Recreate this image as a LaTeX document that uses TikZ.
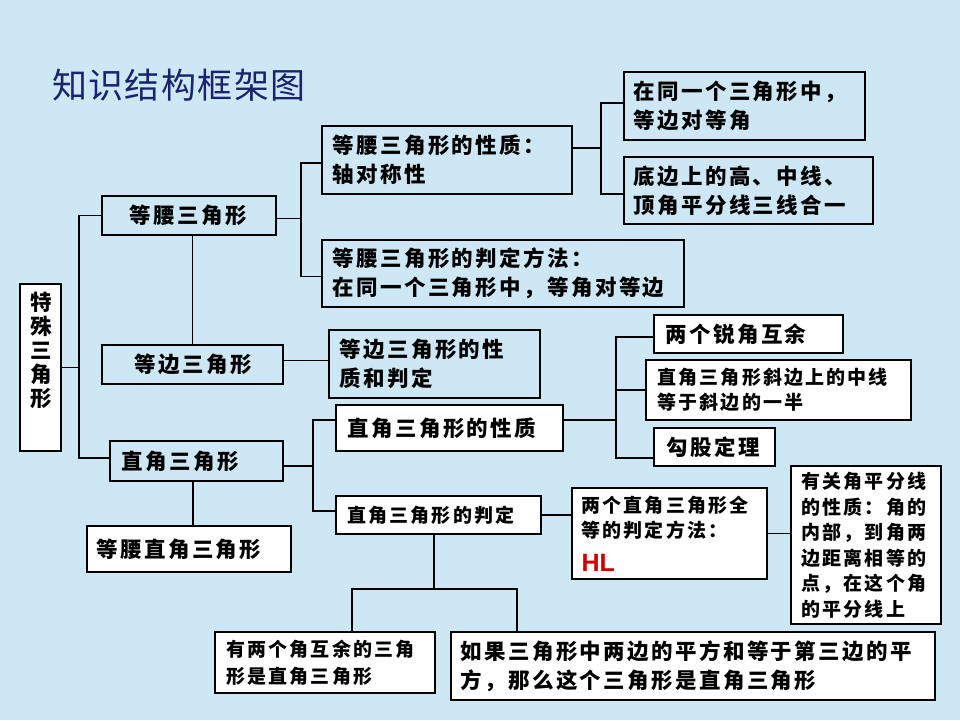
\documentclass[tikz,border=0pt]{standalone}
\usepackage{fontspec}
\newfontfamily\cjkA{Noto Sans CJK SC}[LetterSpace=11]
\newfontfamily\cjkC{Noto Sans CJK SC}[LetterSpace=11]
\newfontfamily\cjkT{Noto Sans CJK SC}[LetterSpace=4]
\newfontfamily\hlf{Liberation Sans}
\definecolor{bgc}{RGB}{205,231,245}
\definecolor{navy}{RGB}{25,35,110}
\definecolor{hlred}{RGB}{204,0,0}
\newcommand\fA{\cjkA\bfseries\fontsize{21.5}{29}\selectfont}
\newcommand\fC{\cjkC\bfseries\fontsize{19}{25.5}\selectfont}
\newcommand\fT{\cjkT\fontsize{35}{38}\selectfont}
\newcommand\hlfont{\hlf\bfseries\fontsize{25}{25}\selectfont\color{hlred}}
\newcommand\bxt[9]{%
  \node[#1, minimum width={#5-#3}, minimum height={#6-#4}] (#2) at ({(#3+#5)/2},{(#4+#6)/2}) {};
  \node[#7, anchor=west, align=left] (#2t) at ([xshift=#8pt]#2.west) {#9};}
\tikzset{
  bb/.style={draw=black, line width=1.1pt, inner sep=0pt},
  wb/.style={bb, fill=white},
  tA/.style={inner sep=0pt, font=\fA, text=black},
  tC/.style={inner sep=0pt, font=\fC, text=black},
  ln/.style={draw=black, line width=1.1pt},
}
\begin{document}
\begin{tikzpicture}[x=1pt,y=-1pt]
\fill[bgc] (0,0) rectangle (960,720);
\useasboundingbox (0,0) rectangle (960,720);

\node[anchor=west, inner sep=0pt, font=\fT, text=navy] (title) at (52,85) {知识结构框架图};

% root
\node[wb, minimum width=41pt, minimum height=167pt] (ts) at (40.5,367.5) {};
\node[tA, align=center] (tst) at (41.5,350.5) {特\\[-5pt]殊\\[-5pt]三\\[-5pt]角\\[-5pt]形};

\bxt{bb}{dy}{102}{196}{276}{235}{tA}{28}{等腰三角形}
\bxt{bb}{db}{102}{345}{283}{384}{tA}{33}{等边三角形}
\bxt{bb}{zj}{110}{441}{283}{481}{tA}{12}{直角三角形}
\bxt{wb}{dz}{87}{526}{291}{572}{tA}{10}{等腰直角三角形}
\bxt{bb}{xz}{322}{126}{572}{194}{tA}{11}{等腰三角形的性质：\\轴对称性}
\bxt{bb}{pd}{322}{240}{684}{307}{tA}{11}{等腰三角形的判定方法：\\在同一个三角形中，等角对等边}
\bxt{bb}{a1}{624}{72}{865}{140}{tA}{10}{在同一个三角形中，\\等边对等角}
\bxt{bb}{a2}{624}{157}{873}{224}{tA}{10}{底边上的高、中线、\\顶角平分线三线合一}
\bxt{bb}{ddx}{329}{330}{540}{398}{tA}{11}{等边三角形的性\\质和判定}
\bxt{wb}{zx}{336}{405}{563}{451}{tA}{12}{直角三角形的性质}
\bxt{wb}{zp}{336}{496}{541}{534}{tC}{12}{直角三角形的判定}
\bxt{wb}{ry}{654}{315}{843}{353}{tA}{12}{两个锐角互余}
\bxt{wb}{xb}{646}{360}{911}{420}{tC}{12}{直角三角形斜边上的中线\\等于斜边的一半}
\bxt{wb}{gg}{654}{428}{775}{466}{tA}{13}{勾股定理}
\bxt{wb}{qd}{572}{488}{767}{579}{tC}{10}{两个直角三角形全\\等的判定方法：\\[8pt]{\hlfont HL}}
\bxt{wb}{yg}{791}{466}{941}{624}{tC}{11}{有关角平分线\\的性质：角的\\内部，到角两\\边距离相等的\\点，在这个角\\的平分线上}
\bxt{wb}{yh}{215}{632}{435}{693}{tC}{12}{有两个角互余的三角\\[1.5pt]形是直角三角形}
\bxt{wb}{rg}{451}{632}{935}{700}{tA}{10}{如果三角形中两边的平方和等于第三边的平\\方，那么这个三角形是直角三角形}

% junction coordinates
\coordinate (k1) at (79,0);
\coordinate (k2) at (301,0);
\coordinate (k3) at (601,0);
\coordinate (k4) at (313,0);
\coordinate (k5) at (616,0);
\coordinate (bl) at (352,589);
\coordinate (br) at (517,589);

% connectors
\draw[ln] (ts.east) -- (ts.east -| k1);
\draw[ln] (dy.west) -- (dy.west -| k1) -- ([yshift=3pt]zj.west -| k1) -- ([yshift=3pt]zj.west);
\draw[ln] (dy.south -| db.north) -- (db.north);
\draw[ln] ([xshift=-3.5pt]zj.south) -- ([xshift=-3.5pt]zj.south |- dz.north);
\draw[ln] ([yshift=-3pt]dy.east) -- ([yshift=-3pt]dy.east -| k2);
\draw[ln] ([yshift=-3pt]xz.west) -- ([yshift=-3pt]xz.west -| k2) -- ([yshift=-3pt]pd.west -| k2) -- ([yshift=-3pt]pd.west);
\draw[ln] ([yshift=12pt]xz.east) -- ([yshift=12pt]xz.east -| k3);
\draw[ln] ([yshift=3pt]a1.west) -- ([yshift=3pt]a1.west -| k3) -- ([yshift=-3.5pt]a2.west -| k3) -- ([yshift=-3.5pt]a2.west);
\draw[ln] ([yshift=4pt]db.east) -- ([yshift=4pt]db.east -| ddx.west);
\draw[ln] ([yshift=-5pt]zj.east) -- ([yshift=-5pt]zj.east -| k4);
\draw[ln] ([yshift=8pt]zx.west) -- ([yshift=8pt]zx.west -| k4) -- ([yshift=4pt]zp.west -| k4) -- ([yshift=4pt]zp.west);
\draw[ln] ([yshift=8pt]zx.east) -- ([yshift=8pt]zx.east -| k5);
\draw[ln] ([yshift=-3pt]ry.west) -- ([yshift=-3pt]ry.west -| k5) -- ([yshift=-11pt]gg.west -| k5) -- ([yshift=-11pt]gg.west);
\draw[ln] (xb.west) -- (xb.west -| k5);
\draw[ln] (zp.east) -- (zp.east -| qd.west);
\draw[ln] (qd.east) -- (qd.east -| yg.west);
\draw[ln] ([xshift=-4.5pt]zp.south) -- ([xshift=-4.5pt]zp.south |- bl);
\draw[ln] (bl |- yh.north) -- (bl) -- (br) -- (br |- rg.north);
\end{tikzpicture}
\end{document}
